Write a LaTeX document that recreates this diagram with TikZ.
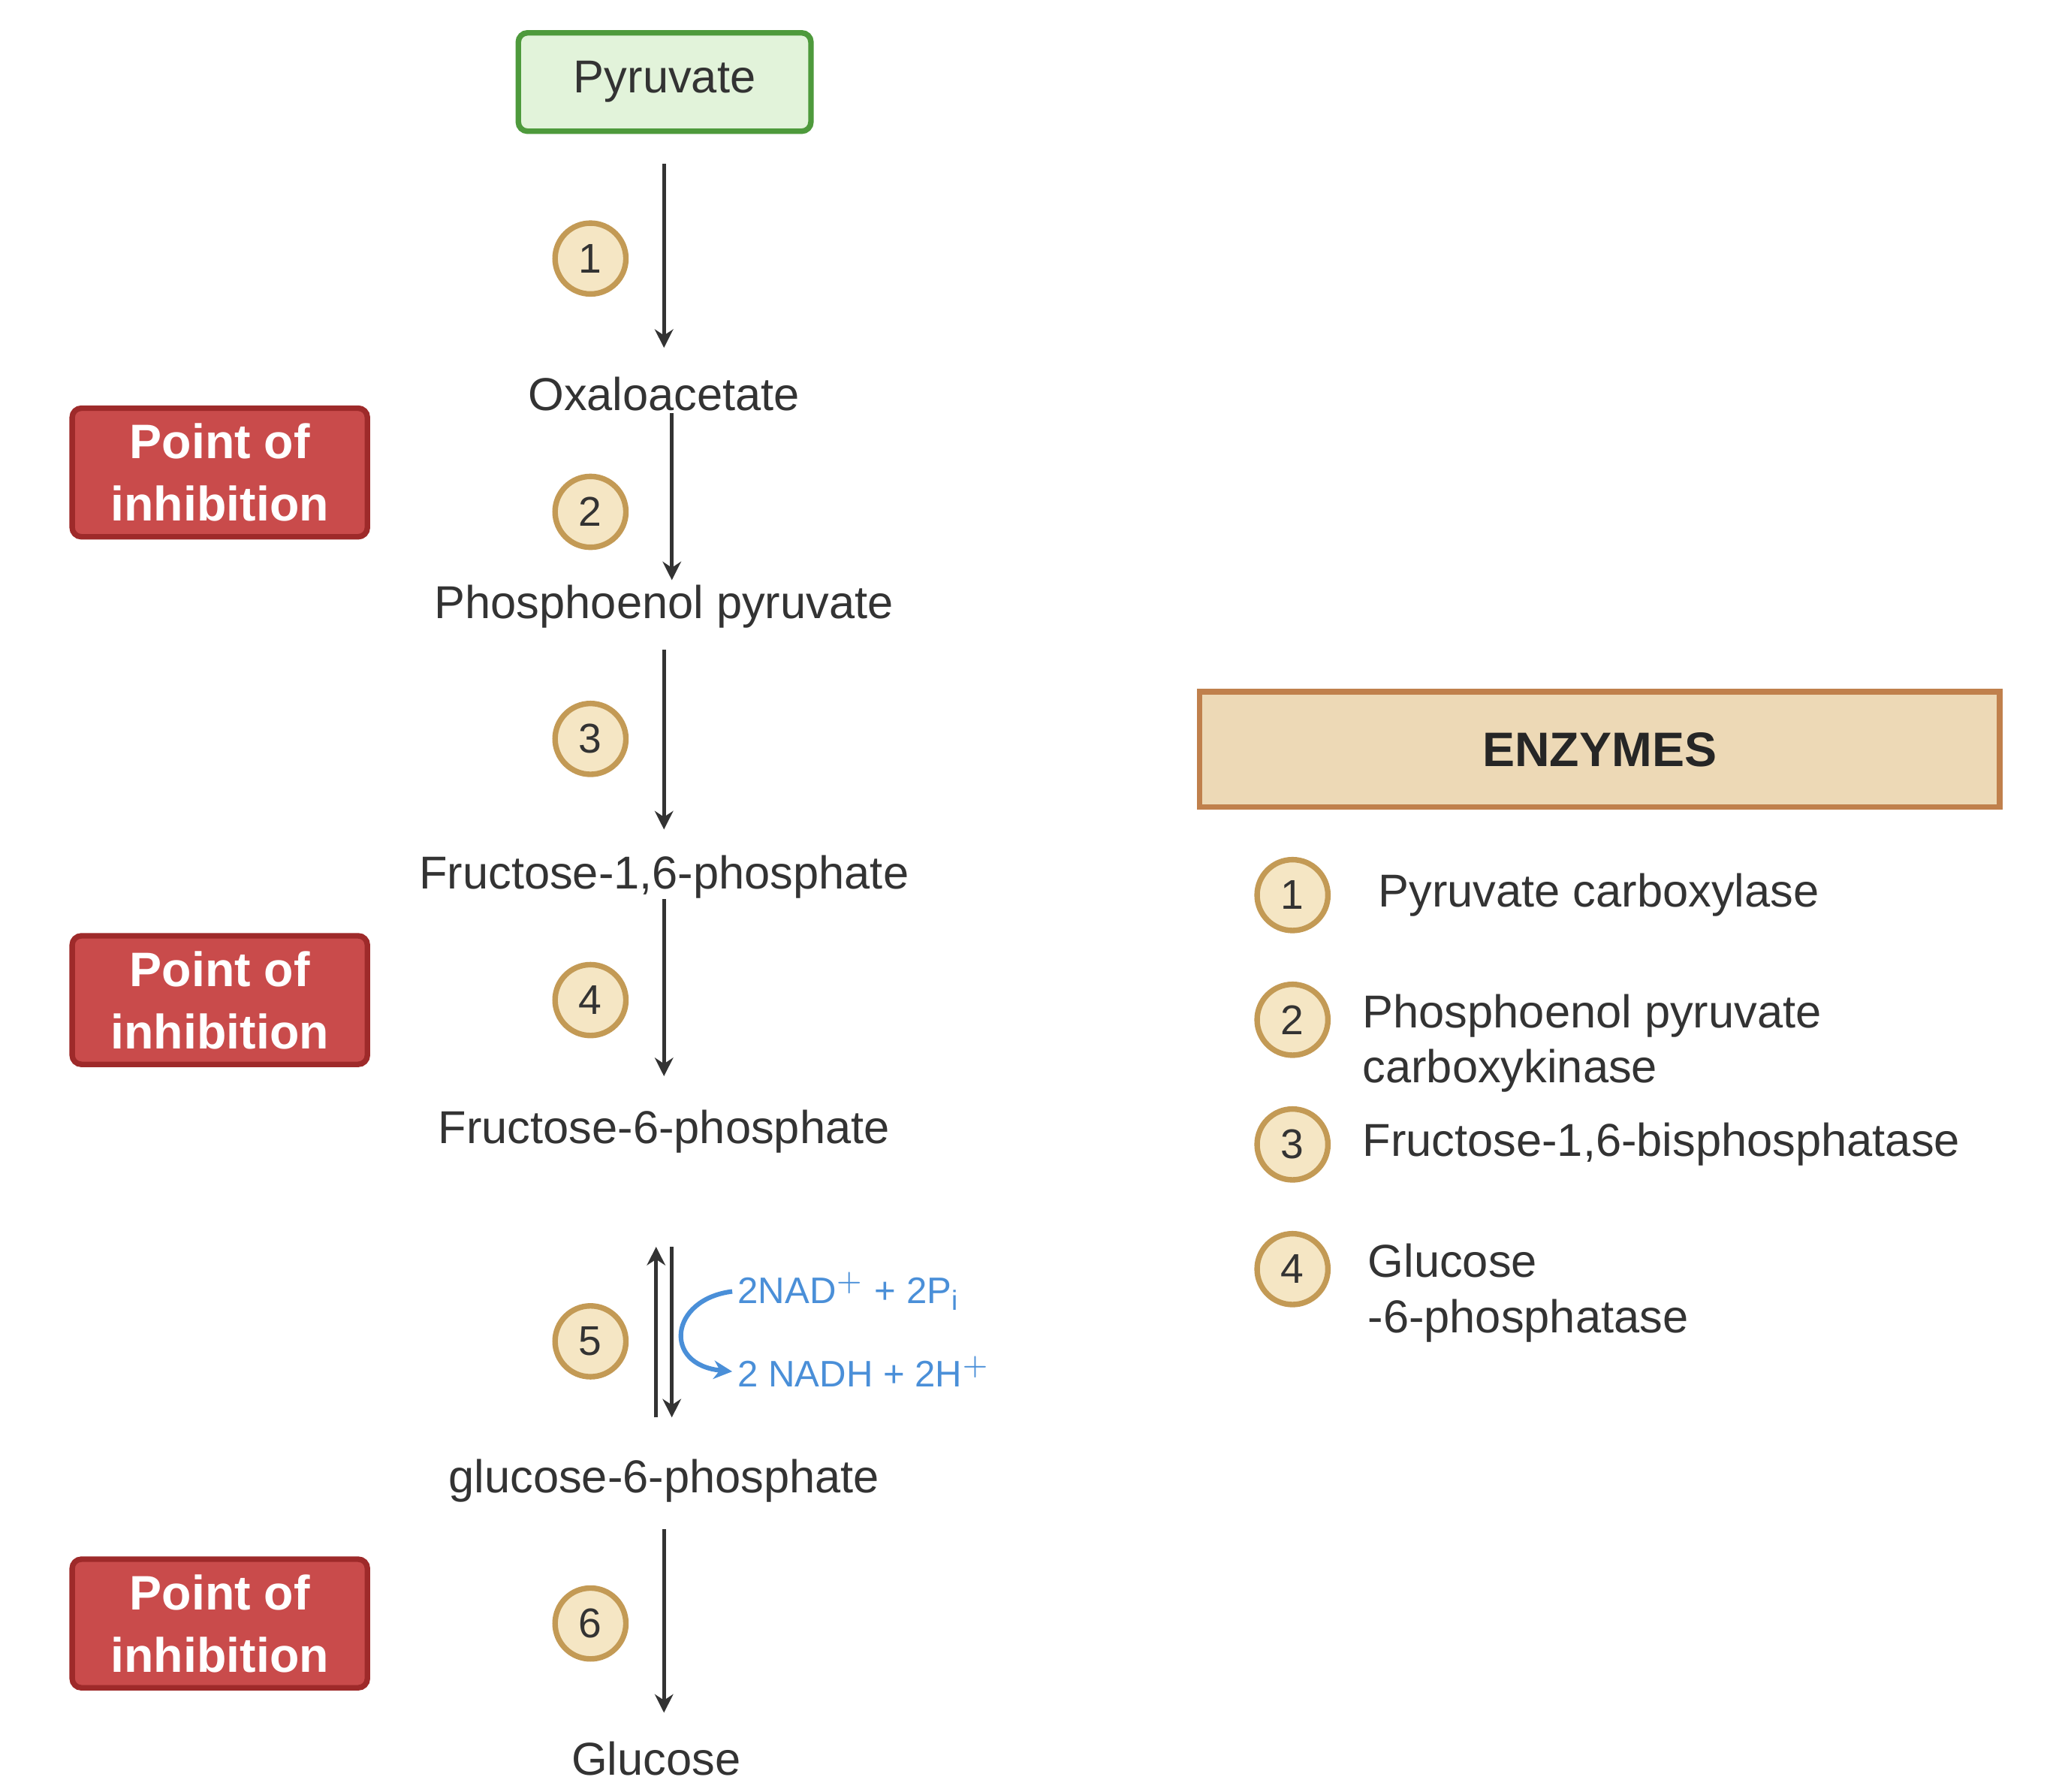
\documentclass[tikz,border=0pt]{standalone}
\usepackage{fontspec}
\setmainfont{Liberation Sans}
\usetikzlibrary{arrows.meta}
\definecolor{gfill}{HTML}{E2F3DA}\definecolor{gdraw}{HTML}{4E9A3C}
\definecolor{rfill}{HTML}{C94B4B}\definecolor{rdraw}{HTML}{9E2A2A}
\definecolor{cfill}{HTML}{F5E6C4}\definecolor{cdraw}{HTML}{C39A55}
\definecolor{efill}{HTML}{EDD9B6}\definecolor{edraw}{HTML}{C0804C}
\definecolor{nblue}{HTML}{4A8FD8}\definecolor{tx}{HTML}{333333}
\tikzset{
 met/.style={font=\fontsize{10}{12}\selectfont,text=tx},
 num/.style={circle,draw=cdraw,fill=cfill,line width=1.2pt,minimum size=0.54cm,inner sep=0pt,font=\fontsize{9}{11}\selectfont,text=tx},
 inh/.style={rounded corners=2pt,draw=rdraw,fill=rfill,line width=1.2pt,minimum width=2.25cm,minimum height=0.96cm,align=center,text=white,font=\bfseries\fontsize{10.5}{13.5}\selectfont},
 arr/.style={-{Stealth[length=4pt,width=4pt]},line width=0.8pt,tx},
 enz/.style={font=\fontsize{10}{12}\selectfont,text=tx,anchor=west,align=left}
}
\begin{document}
\begin{tikzpicture}
\useasboundingbox (0,0) rectangle (15.6,-13.65);
\node[draw=gdraw,fill=gfill,line width=1.2pt,rounded corners=2pt,minimum width=2.23cm,minimum height=0.75cm,met] (pyr) at (5.065,-0.625) {Pyruvate};
\node[met] (oxa) at (5.06,-3.0) {Oxaloacetate};
\node[met] (pep) at (5.06,-4.62) {Phosphoenol pyruvate};
\node[met] (f16) at (5.06,-6.68) {Fructose-1,6-phosphate};
\node[met] (f6) at (5.06,-8.62) {Fructose-6-phosphate};
\node[met] (g6) at (5.06,-11.28) {glucose-6-phosphate};
\node[met] (glc) at (5.0,-13.4) {Glucose};
\coordinate (a1s) at (5.06,-1.25); \coordinate (a1e) at (5.06,-2.65);
\draw[arr] (a1s) -- (a1e);
\coordinate (a2s) at (5.12,-3.15); \coordinate (a2e) at (5.12,-4.42);
\draw[arr] (a2s) -- (a2e);
\coordinate (a3s) at (5.06,-4.95); \coordinate (a3e) at (5.06,-6.32);
\draw[arr] (a3s) -- (a3e);
\coordinate (a4s) at (5.06,-6.85); \coordinate (a4e) at (5.06,-8.2);
\draw[arr] (a4s) -- (a4e);
\coordinate (a5a) at (5.0,-10.8); \coordinate (a5b) at (5.0,-9.5);
\draw[arr] (a5a) -- (a5b);
\coordinate (a5c) at (5.12,-9.5); \coordinate (a5d) at (5.12,-10.8);
\draw[arr] (a5c) -- (a5d);
\coordinate (a6s) at (5.06,-11.65); \coordinate (a6e) at (5.06,-13.05);
\draw[arr] (a6s) -- (a6e);
\node[num] (n1) at (4.5,-1.97) {1};
\node[num] (n2) at (4.5,-3.9) {2};
\node[num] (n3) at (4.5,-5.63) {3};
\node[num] (n4) at (4.5,-7.62) {4};
\node[num] (n5) at (4.5,-10.22) {5};
\node[num] (n6) at (4.5,-12.37) {6};
\node[anchor=west,text=nblue,font=\fontsize{8}{10}\selectfont,inner sep=1pt] (nad) at (5.58,-9.84) {2NAD$^{+}$ + 2P$_{\mathrm{i}}$};
\node[anchor=west,text=nblue,font=\fontsize{8}{10}\selectfont,inner sep=1pt] (nadh) at (5.58,-10.45) {2 NADH + 2H$^{+}$};
\draw[nblue,line width=1pt,-{Stealth[length=4pt,width=4pt]}] (nad.west) .. controls (5.1,-9.9) and (5.05,-10.4) .. (nadh.west);
\node[inh] (i1) at (1.675,-3.6) {Point of\\inhibition};
\node[inh] (i2) at (1.675,-7.62) {Point of\\inhibition};
\node[inh] (i3) at (1.675,-12.37) {Point of\\inhibition};
\node[draw=edraw,fill=efill,line width=1.2pt,minimum width=6.1cm,minimum height=0.88cm,font=\bfseries\fontsize{10.5}{13}\selectfont,text=black!85] (enz) at (12.19,-5.71) {ENZYMES};
\node[num] (e1) at (9.85,-6.82) {1};
\node[num] (e2) at (9.85,-7.77) {2};
\node[num] (e3) at (9.85,-8.72) {3};
\node[num] (e4) at (9.85,-9.67) {4};
\node[enz] (t1) at (10.38,-6.82) {Pyruvate carboxylase};
\node[enz] (t2) at (10.26,-7.95) {Phosphoenol pyruvate\\carboxykinase};
\node[enz] (t3) at (10.26,-8.72) {Fructose-1,6-bisphosphatase};
\node[enz] (t4) at (10.3,-9.85) {Glucose\\-6-phosphatase};
\end{tikzpicture}
\end{document}
